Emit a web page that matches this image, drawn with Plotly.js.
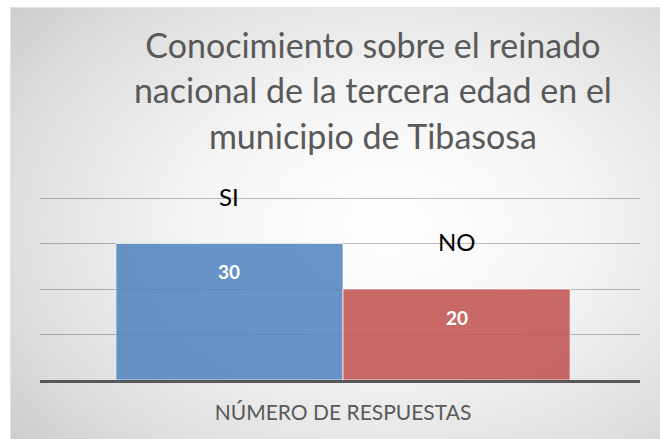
<!DOCTYPE html>
<html><head><meta charset="utf-8">
<script src="https://cdn.plot.ly/plotly-3.0.1.min.js"></script>
<style>
html,body{margin:0;padding:0;background:#ffffff;}
#bg{position:absolute;left:10px;top:7px;width:649px;height:431px;border:1px solid #e2e2e2;
background:radial-gradient(ellipse 75% 80% at 58% 50%, #ffffff 0%, #f4f4f4 40%, #dcdcdc 80%, #cdcdcd 100%);}
#chart{position:absolute;left:0;top:0;width:660px;height:439px;}
</style></head><body>
<div id="bg"></div><div id="chart"></div>
<script>
const categories = ["NÚMERO DE RESPUESTAS"];
const seriesNames = ["SI", "NO"];
const siValues = [30];
const noValues = [20];
const yTicks = [0, 10, 20, 30, 40];
const titleLines = ["Conocimiento sobre el reinado", "nacional de la tercera edad en el", "municipio de Tibasosa"];

const FONT = "Lato, 'Open Sans', sans-serif";
const barGap = 0.243;
const barWidth = (1 - barGap) / 2;
const seriesValues = [siValues, noValues];
const colors = ["rgba(79,129,189,0.85)", "rgba(192,80,77,0.85)"];

const traces = seriesNames.map((name, i) => ({
  type: "bar",
  name: name,
  x: categories,
  y: seriesValues[i],
  marker: {color: colors[i], line: {color: "rgba(255,255,255,0.7)", width: 1}},
  hoverinfo: "x+y+name"
}));

const annotations = [];
seriesNames.forEach((name, i) => {
  const xc = (i - 0.5) * barWidth;
  seriesValues[i].forEach(v => {
    annotations.push({x: xc, y: v, xref: "x", yref: "y", text: name, showarrow: false,
      yanchor: "bottom", yshift: 31, font: {family: FONT, size: 24, color: "#000000"}});
    annotations.push({x: xc, y: v, xref: "x", yref: "y", text: "<b>" + v + "</b>", showarrow: false,
      yanchor: "middle", yshift: -28, font: {family: FONT, size: 19, color: "#ffffff"}});
  });
});

const layout = {
  width: 660, height: 439,
  paper_bgcolor: "rgba(0,0,0,0)", plot_bgcolor: "rgba(0,0,0,0)",
  margin: {l: 40, r: 20, t: 193, b: 59},
  showlegend: false,
  barmode: "group", bargap: barGap, bargroupgap: 0,
  title: {
    text: '<span style="font-size:34px">' + titleLines.join("<br>") + '</span>',
    font: {family: FONT, size: 35, color: "#595959"},
    x: 0.565, xanchor: "center", xref: "container",
    y: 0.869, yanchor: "top", yref: "container"
  },
  xaxis: {
    type: "category", range: [-0.505, 0.495],
    showline: true, linecolor: "#595959", linewidth: 3,
    showgrid: false, ticks: "", ticklabelstandoff: 12,
    tickfont: {family: FONT, size: 21, color: "#595959"}
  },
  yaxis: {
    range: [0, 41.1], tickvals: yTicks, showticklabels: false,
    showgrid: true, gridcolor: "rgba(0,0,0,0.25)", gridwidth: 1,
    zeroline: false, showline: false, ticks: ""
  },
  annotations: annotations,
  font: {family: FONT}
};

Plotly.newPlot("chart", traces, layout, {displayModeBar: false, staticPlot: true});
</script>
</body></html>
